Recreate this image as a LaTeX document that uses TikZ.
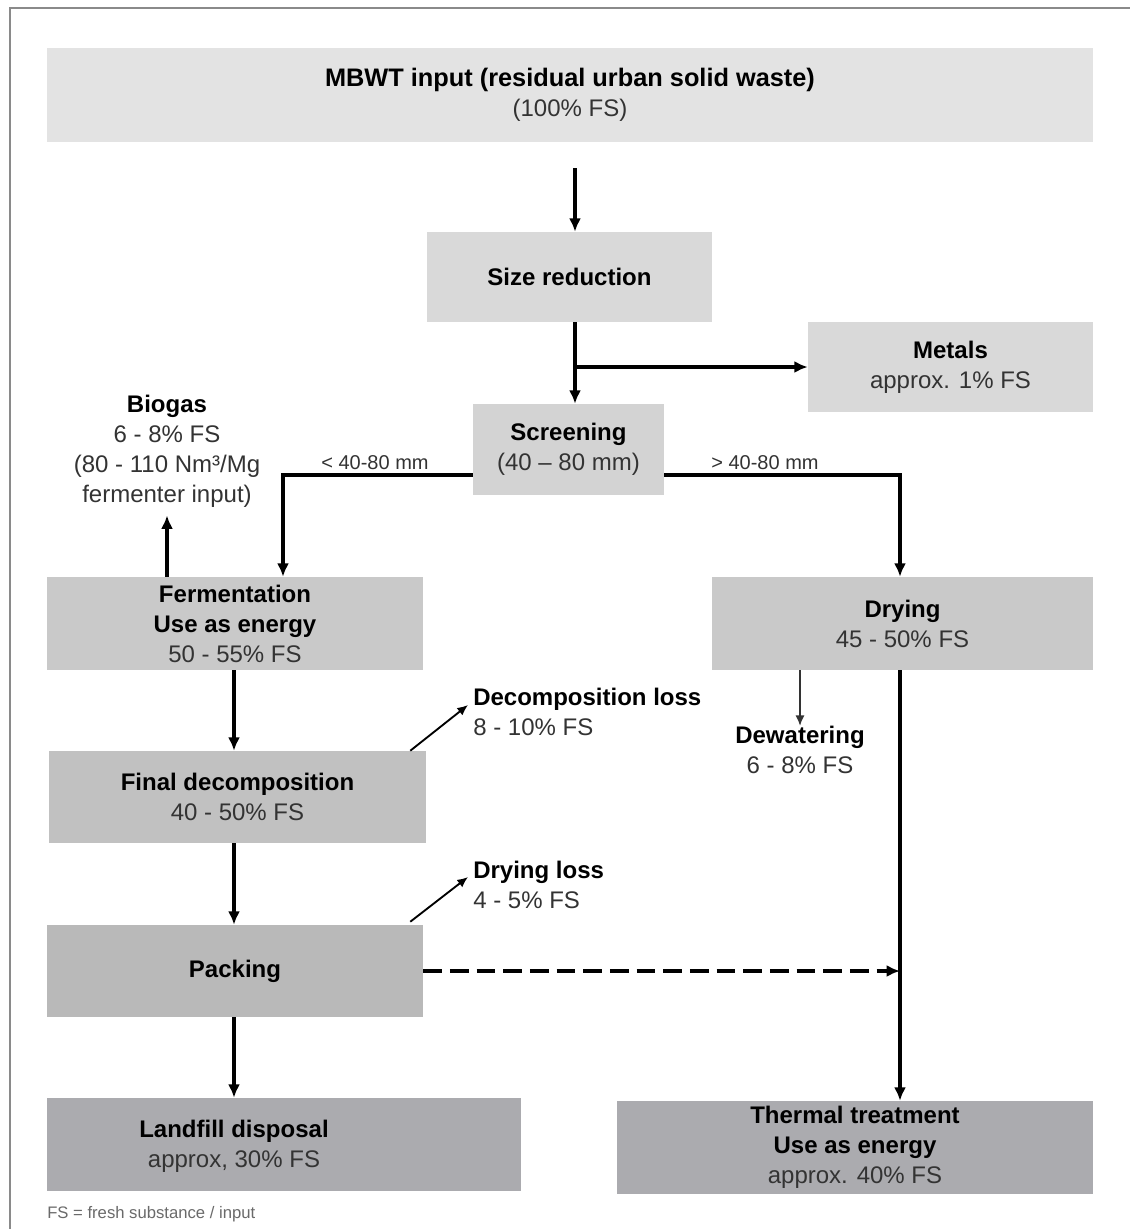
\documentclass[tikz,border=0pt]{standalone}
\usepackage{fontspec}
\setmainfont{Liberation Sans}
\usetikzlibrary{calc,arrows.meta}
\definecolor{cTop}{HTML}{E3E3E3}
\definecolor{cSize}{HTML}{D9D9D9}
\definecolor{cScr}{HTML}{D3D3D3}
\definecolor{cMid}{HTML}{C9C9C9}
\definecolor{cFin}{HTML}{C1C1C1}
\definecolor{cPack}{HTML}{B9B9B9}
\definecolor{cEnd}{HTML}{ABABAF}
\definecolor{txt}{HTML}{333333}
\definecolor{frame}{HTML}{8A8A8A}
\definecolor{foot}{HTML}{6A6A6A}
\newcommand{\bt}[1]{{\bfseries #1}}
\newcommand{\rt}[1]{{\color{txt}#1}}
\tikzset{
  box/.style={inner sep=0pt, draw=none, align=center, font=\fontsize{18}{22.5}\selectfont},
  wh/.style 2 args={minimum width=#1*0.75pt, minimum height=#2*0.75pt},
  lbl/.style={inner sep=0pt, font=\fontsize{18}{22.5}\selectfont},
  small/.style={inner sep=0pt, font=\fontsize{15}{17}\selectfont, text=txt},
  arr/.style={line width=2.5pt, -{Latex[length=10pt,width=9pt]}},
  thin arr/.style={line width=1.4pt, -{Latex[length=8pt,width=7pt]}},
  dash arr/.style={line width=2.8pt, dash pattern=on 14pt off 6pt, -{Latex[length=10pt,width=9pt]}}
}
\begin{document}
\begin{tikzpicture}[x=0.75pt,y=-0.75pt]
\useasboundingbox (0,0) rectangle (1130,1229);
\fill[white] (0,0) rectangle (1130,1229);
\draw[frame, line width=1.4pt] (1130,8) -- (10,8) -- (10,1229);

% boxes
\node[box, fill=cTop, wh={1046}{94}] (top) at (570,95)
  {\fontsize{19}{22.5}\selectfont\bt{MBWT input (residual urban solid waste)}\\\rt{(100\% FS)}};
\node[box, fill=cSize, wh={285}{90}] (size) at (569.5,277) {\bt{Size reduction}};
\node[box, fill=cSize, wh={285}{90}] (met) at (950.5,367) {\bt{Metals}\\\rt{approx. 1\% FS}};
\node[box, fill=cScr, wh={191}{91}] (scr) at (568.5,449.5) {\bt{Screening}\\\rt{(40 – 80 mm)}};
\node[box, fill=cMid, wh={376}{93}] (ferm) at (235,623.5) {\bt{Fermentation}\\\bt{Use as energy}\\\rt{50 - 55\% FS}};
\node[box, fill=cMid, wh={381}{93}] (dry) at (902.5,623.5) {\bt{Drying}\\\rt{45 - 50\% FS}};
\node[box, fill=cFin, wh={377}{92}] (fin) at (237.5,797) {\bt{Final decomposition}\\\rt{40 - 50\% FS}};
\node[box, fill=cPack, wh={376}{92}] (pack) at (235,971) {\bt{Packing}};
\node[box, fill=cEnd, wh={474}{93}] (land) at (284,1144.5) {};
\node[box] (landtxt) at (234,1146) {\bt{Landfill disposal}\\\rt{approx, 30\% FS}};
\node[box, fill=cEnd, wh={476}{93}] (therm) at (855,1147.5) {\bt{Thermal treatment}\\\bt{Use as energy}\\\rt{approx. 40\% FS}};

% free labels
\node[lbl, align=center] (bio) at (167,451) {\bt{Biogas}\\\rt{6 - 8\% FS}\\\rt{(80 - 110 Nm³/Mg}\\\rt{fermenter input)}};
\node[small] (lt) at (375,463) {< 40-80 mm};
\node[small] (gt) at (765,463) {> 40-80 mm};
\node[lbl, align=left, anchor=north west] (decl) at (473,688) {\bt{Decomposition loss}\\\rt{8 - 10\% FS}};
\node[lbl, align=center] (dew) at (800,750) {\bt{Dewatering}\\\rt{6 - 8\% FS}};
\node[lbl, align=left, anchor=north west] (dryl) at (473,861) {\bt{Drying loss}\\\rt{4 - 5\% FS}};
\node[inner sep=0pt, anchor=west, text=foot, font=\fontsize{12.5}{14}\selectfont] (note) at (47,1214) {FS = fresh substance / input};

% connectors
\coordinate (a1) at ($(top.south)+(5,26)$);
\draw[arr] (a1) -- (a1 |- size.north);
\coordinate (a2) at ($(size.south)+(5.5,0)$);
\draw[arr] (a2) -- (a2 |- scr.north);
\draw[arr] (a2 |- met.west) -- (met.west);
\draw[arr] ($(scr.west)+(0,25.5)$) -| ($(ferm.north)+(48,0)$);
\draw[arr] ($(scr.east)+(0,25.5)$) -| ($(dry.north)+(-2.5,0)$);
\draw[arr] (ferm.north -| bio.south) -- ($(bio.south)+(0,8)$);
\coordinate (a3) at ($(ferm.south)+(-1,0)$);
\draw[arr] (a3) -- (a3 |- fin.north);
\draw[thin arr] ($(fin.north east)+(-16,0)$) -- ($(decl.north west)+(-5,17)$);
\coordinate (a4) at ($(fin.south)+(-3.5,0)$);
\draw[arr] (a4) -- (a4 |- pack.north);
\draw[thin arr] ($(pack.north east)+(-13,-3)$) -- ($(dryl.north west)+(-5,16)$);
\coordinate (a5) at ($(pack.south)+(-1,0)$);
\draw[arr] (a5) -- (a5 |- land.north);
\coordinate (a6) at ($(dry.south)+(-2.5,0)$);
\draw[arr] (a6) -- (a6 |- therm.north);
\draw[dash arr] (pack.east) -- (pack.east -| a6);
\draw[thin arr, draw=black!80] (dew.north |- dry.south) -- (dew.north);
\end{tikzpicture}
\end{document}
